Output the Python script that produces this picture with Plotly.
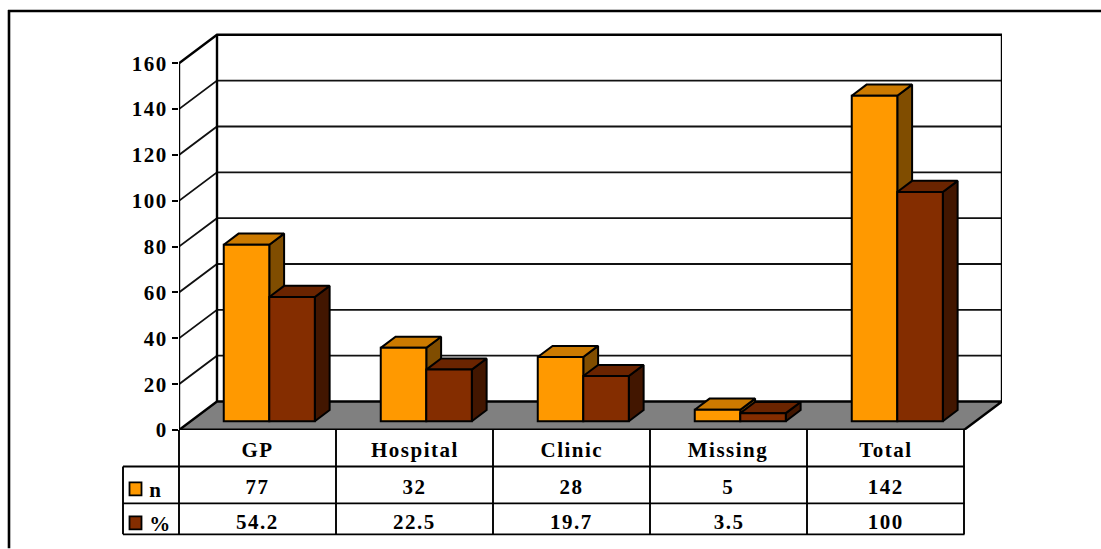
import plotly.graph_objects as go

categories = ["GP", "Hospital", "Clinic", "Missing", "Total"]
n_values = [77, 32, 28, 5, 142]
pct_values = [54.2, 22.5, 19.7, 3.5, 100]
n_labels = ["77", "32", "28", "5", "142"]
pct_labels = ["54.2", "22.5", "19.7", "3.5", "100"]
y_ticks = [0, 20, 40, 60, 80, 100, 120, 140, 160]

W, H = 1101, 549
L, R, T, B = 179, 1002, 33, 430.5
CAT_PX = 157.0
PX_PER_UNIT = 2.295
DEPTH_X = 38 / CAT_PX          # floor depth, in category units
DEPTH_Y = 28.5 / PX_PER_UNIT   # floor depth, in value units
XMAX = (R - L) / CAT_PX
YMAX = (B - T) / PX_PER_UNIT
D0, D1 = 0.31, 0.70            # bar front / back in floor-depth fractions
BAR_W = 0.29
FONT = "Liberation Serif"
BLACK = "#000000"

ORANGE = ("#FF9900", "#CC7A00", "#804D00")
BROWN = ("#842D00", "#6A2400", "#421600")


def px(x):
    return (x - L) / (R - L)


def py(y):
    return (B - y) / (B - T)


def P(x, v, d):
    """Oblique projection of (category position, value, depth) to axis units."""
    return x + d * DEPTH_X, v + d * DEPTH_Y


def poly(points, fill, width=2.0, line=BLACK):
    xs = [p[0] for p in points] + [points[0][0]]
    ys = [p[1] for p in points] + [points[0][1]]
    return go.Scatter(x=xs, y=ys, mode="lines", fill="toself", fillcolor=fill, cliponaxis=False,
                      line=dict(color=line, width=width), hoverinfo="skip",
                      showlegend=False, xaxis="x", yaxis="y")


def seg(points, width=1.8, color=BLACK):
    return go.Scatter(x=[p[0] for p in points], y=[p[1] for p in points], mode="lines", cliponaxis=False,
                      line=dict(color=color, width=width), hoverinfo="skip",
                      showlegend=False, xaxis="x", yaxis="y")


fig = go.Figure()

# Floor
fig.add_trace(poly([P(0, 0, 0), P(5, 0, 0), P(5, 0, 1), P(0, 0, 1)], "#808080", width=0.1, line="#808080"))

# Wall gridlines
for t in y_ticks[1:-1]:
    fig.add_trace(seg([P(0, t, 0), P(0, t, 1), P(5, t, 1)], width=1.8, color="#111111"))

# Wall frame
fig.add_trace(seg([P(0, 160, 0), P(0, 160, 1), P(5, 160, 1), P(5, 0, 1)], width=2.4))
fig.add_trace(seg([P(0, 0, 1), P(0, 160, 1)], width=2.4))
fig.add_trace(seg([P(0, 0, 0), P(0, 0, 1), P(5, 0, 1), P(5, 0, 0)], width=2.4))
fig.add_trace(seg([P(0, 0, 0), P(0, 160, 0)], width=2.4))
fig.add_trace(seg([P(0, 0, 0), P(5, 0, 0)], width=2.8))

# Bar tops and sides (painter's order); the fronts are real bars on an overlay axis
base_x, base_v = P(0, 0, D0)
for i in range(len(categories)):
    for offset, value, colors in ((-BAR_W, n_values[i], ORANGE), (0, pct_values[i], BROWN)):
        x0 = i + 0.5 + offset
        x1 = x0 + BAR_W
        fig.add_trace(poly([P(x1, 0, D0), P(x1, 0, D1), P(x1, value, D1), P(x1, value, D0)], colors[2]))
        fig.add_trace(poly([P(x0, value, D0), P(x1, value, D0), P(x1, value, D1), P(x0, value, D1)], colors[1]))

centers = [i + 0.5 + base_x for i in range(len(categories))]
for name, values, shift, colors in (("n", n_values, -BAR_W / 2, ORANGE), ("%", pct_values, BAR_W / 2, BROWN)):
    fig.add_trace(go.Bar(
        name=name, x=[c + shift for c in centers], y=values, base=base_v, width=BAR_W,
        marker=dict(color=colors[0], line=dict(color=BLACK, width=2.0)),
        showlegend=False, xaxis="x2", yaxis="y2",
        hovertemplate=name + ": %{y}<extra></extra>",
    ))

shapes = []


def line_shape(x0, y0, x1, y1, width=1.9):
    shapes.append(dict(type="line", xref="paper", yref="paper", x0=px(x0), y0=py(y0), x1=px(x1), y1=py(y1),
                       line=dict(color=BLACK, width=width), layer="above"))


# Outer frame (open on the right and bottom)
line_shape(8, 11, W, 11, 2.4)
line_shape(9, 10, 9, H, 2.6)

# Data table
ROWS = (467, 504, 535)
col_x = [L + CAT_PX * i for i in range(6)]
line_shape(123, ROWS[0], 964.5, ROWS[0])
line_shape(123, ROWS[1], 964.5, ROWS[1])
line_shape(123, ROWS[2], 964.5, ROWS[2])
line_shape(123, ROWS[0], 123, ROWS[2])
for cx in col_x:
    line_shape(cx, B, cx, ROWS[2])

# Legend keys
for (y0, y1), color in (((483, 496), ORANGE[0]), ((517, 530), BROWN[0])):
    shapes.append(dict(type="rect", xref="paper", yref="paper", x0=px(129.5), x1=px(141.5), y0=py(y0), y1=py(y1),
                       fillcolor=color, line=dict(color=BLACK, width=1.8), layer="above"))

annotations = []


def label(x, y, text, xref="x", xanchor="center"):
    annotations.append(dict(x=x, y=py(y), xref=xref, yref="paper", text=text, showarrow=False,
                            xanchor=xanchor, yanchor="middle",
                            font=dict(family=FONT, size=21, color=BLACK, weight="bold")))


for i, cat in enumerate(categories):
    label(i + 0.5, 450.5, cat)
    label(i + 0.5, 488, n_labels[i])
    label(i + 0.5, 522.5, pct_labels[i])
label(px(147.5), 491, "n", xref="paper", xanchor="left")
label(px(147.5), 525, "%", xref="paper", xanchor="left")

axis_off = dict(visible=False, showgrid=False, zeroline=False, fixedrange=True)
fig.update_layout(
    width=W, height=H, autosize=False,
    margin=dict(l=L, r=W - R, t=T, b=H - B, pad=0),
    paper_bgcolor="white", plot_bgcolor="white",
    barmode="overlay", showlegend=False,
    xaxis=dict(range=[0, XMAX], **axis_off),
    yaxis=dict(range=[0, YMAX], tickmode="array", tickvals=y_ticks, ticktext=[str(t) for t in y_ticks],
               ticks="outside", ticklen=6, tickwidth=2, tickcolor=BLACK, showline=False,
               showgrid=False, zeroline=False, fixedrange=True, ticklabelstandoff=0,
               tickfont=dict(family=FONT, size=21, color=BLACK, weight="bold")),
    xaxis2=dict(range=[0, XMAX], overlaying="x", anchor="y2", **axis_off),
    yaxis2=dict(range=[0, YMAX], overlaying="y", anchor="x2", **axis_off),
    shapes=shapes, annotations=annotations,
)

post = """
document.documentElement.style.overflow='hidden';
document.body.style.margin='0';
var s=document.createElement('style');
s.textContent='svg text{letter-spacing:1.5px;}';
document.head.appendChild(s);
"""
fig.write_html("out.html", post_script=post, config=dict(displayModeBar=False))
